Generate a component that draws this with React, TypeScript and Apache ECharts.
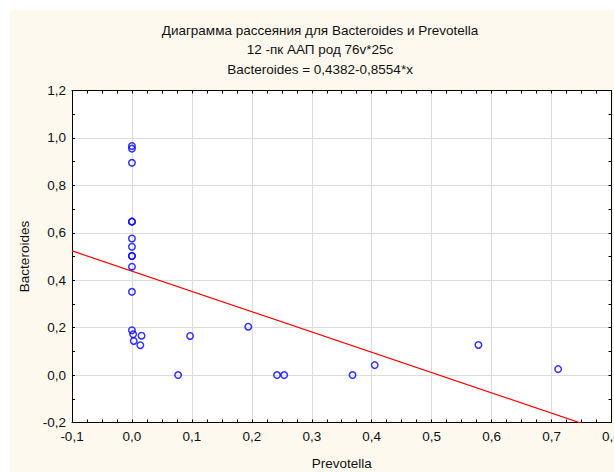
import React, { useEffect, useRef } from "react";
import * as echarts from "echarts";

const titleLines = [
  "Диаграмма рассеяния для Bacteroides и Prevotella",
  "12 -пк ААП род 76v*25c",
  "Bacteroides = 0,4382-0,8554*x",
];
const xName = "Prevotella";
const yName = "Bacteroides";

const prevotella = [
  0, 0, 0, 0, 0, 0, 0, 0, 0, 0, 0, 0, 0.002, 0.003, 0.016, 0.014, 0.097, 0.077,
  0.194, 0.242, 0.254, 0.368, 0.405, 0.578, 0.711,
];
const bacteroides = [
  0.966, 0.955, 0.895, 0.647, 0.647, 0.576, 0.541, 0.502, 0.502, 0.457, 0.351,
  0.189, 0.172, 0.144, 0.166, 0.126, 0.165, 0.0, 0.204, 0.0, 0.0, 0.0, 0.042,
  0.127, 0.025,
];
const intercept = 0.4382;
const slope = -0.8554;
const xRange = [-0.1, 0.8];
const yRange = [-0.2, 1.2];

const fmt = (v: number) => v.toFixed(1).replace(".", ",");

export default function App() {
  const ref = useRef<HTMLDivElement>(null);
  useEffect(() => {
    if (!ref.current) return;
    const chart = echarts.init(ref.current, undefined, { renderer: "svg" });
    const points = prevotella.map((x, i) => [x, bacteroides[i]]);
    const fitLine = xRange.map((x) => [x, intercept + slope * x]);
    const font = "Arial, 'Liberation Sans', sans-serif";
    const fs = 13.5;
    const baseX = {
      type: "value" as const,
      min: xRange[0],
      max: xRange[1],
      interval: 0.1,
      axisLine: { show: true, onZero: false, lineStyle: { color: "#000", width: 1 } },
      axisTick: { show: true, inside: true, length: 3, lineStyle: { color: "#000" } },
      minorTick: { show: true, splitNumber: 4, length: 3, lineStyle: { color: "#000" } },
    };
    const baseY = {
      type: "value" as const,
      min: yRange[0],
      max: yRange[1],
      interval: 0.2,
      axisLine: { show: true, onZero: false, lineStyle: { color: "#000", width: 1 } },
      axisTick: { show: true, inside: true, length: 3, lineStyle: { color: "#000" } },
      minorTick: { show: true, splitNumber: 2, length: 3, lineStyle: { color: "#000" } },
    };
    chart.setOption({
      animation: false,
      backgroundColor: "#ffffff",
      graphic: [
        {
          type: "rect",
          shape: { x: 10, y: 10, width: 604, height: 462 },
          style: { fill: "#fdf9ef" },
          z: -10,
          silent: true,
        },
        {
          type: "rect",
          shape: { x: 72, y: 90.5, width: 539.5, height: 332 },
          style: { fill: "#ffffff" },
          z: -9,
          silent: true,
        },
        ...titleLines.map((t, i) => ({
          type: "text",
          x: 320,
          y: 30 + i * 19.5,
          style: {
            text: t,
            fill: "#111",
            font: `${fs}px ${font}`,
            textAlign: "center",
            textVerticalAlign: "middle",
          },
        })),
      ],
      grid: {
        left: 72,
        right: 2.5,
        top: 90.5,
        bottom: 49.5,
        containLabel: false,
        outerBoundsMode: "none",
      },
      xAxis: [
        {
          ...baseX,
          position: "bottom",
          name: xName,
          nameLocation: "middle",
          nameGap: 34,
          nameTextStyle: { color: "#111", fontSize: fs, fontFamily: font },
          axisLabel: { formatter: fmt, color: "#111", fontSize: fs, fontFamily: font, margin: 7 },
          splitLine: { show: true, lineStyle: { color: "#dcdcdc", width: 1 } },
        },
        {
          ...baseX,
          position: "top",
          axisLabel: { show: false },
          splitLine: { show: false },
        },
      ],
      yAxis: [
        {
          ...baseY,
          position: "left",
          name: yName,
          nameLocation: "middle",
          nameGap: 36,
          nameRotate: 90,
          nameTextStyle: { color: "#111", fontSize: fs, fontFamily: font },
          axisLabel: { formatter: fmt, color: "#111", fontSize: fs, fontFamily: font, margin: 6 },
          splitLine: { show: true, lineStyle: { color: "#dcdcdc", width: 1 } },
        },
        {
          ...baseY,
          position: "right",
          axisLabel: { show: false },
          splitLine: { show: false },
        },
      ],
      series: [
        {
          type: "line",
          data: fitLine,
          symbol: "none",
          clip: true,
          lineStyle: { color: "#ff0000", width: 1.2 },
          z: 2,
        },
        {
          type: "scatter",
          data: points,
          symbol: "circle",
          symbolSize: 6.5,
          itemStyle: { color: "transparent", borderColor: "#0000ff", borderWidth: 1.5 },
          z: 3,
        },
      ],
    });
    return () => chart.dispose();
  }, []);
  return (
    <div
      ref={ref}
      style={{ position: "fixed", left: 0, top: 0, width: 614, height: 472 }}
    />
  );
}
